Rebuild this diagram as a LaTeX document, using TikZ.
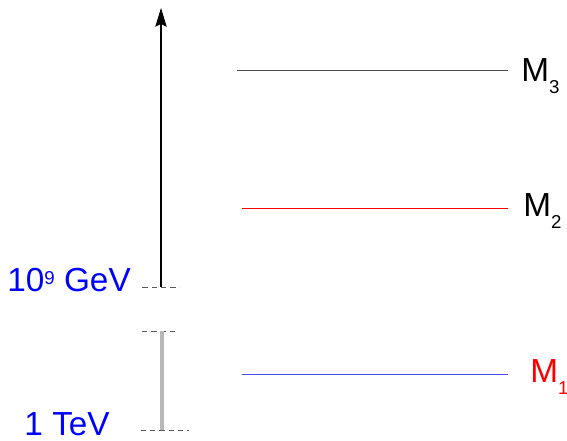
\documentclass[tikz,border=0pt]{standalone}
\usepackage{fontspec}
\setmainfont{Liberation Sans}
\usetikzlibrary{arrows.meta, positioning}

\newcommand{\lowsub}[1]{\raisebox{-8.5pt}{\fontsize{14}{14}\selectfont #1}}
\newcommand{\lowsup}[1]{\raisebox{5.5pt}{\fontsize{14}{14}\selectfont #1}}

\begin{document}
\begin{tikzpicture}[x=0.75pt, y=0.75pt,
    level/.style={line width=0.7pt},
    tick/.style={draw=black!65, dash pattern=on 4pt off 3pt, line width=0.6pt},
    scalelabel/.style={text=blue, font=\fontsize{25}{25}\selectfont, anchor=base east, inner sep=0pt},
    masslabel/.style={font=\fontsize{25}{25}\selectfont, anchor=base west, inner sep=0pt}
]
    \useasboundingbox (0,0) rectangle (567,441);

    % energy scale on the left
    \coordinate (gev) at (161,154);
    \coordinate (top) at (161,433);
    \coordinate (lowtop) at (162,110);
    \coordinate (tev) at (162,11);

    \draw[tick] ([xshift=-14]gev) -- ([xshift=14]gev);
    \draw[tick] ([xshift=-15]lowtop) -- ([xshift=12]lowtop);
    \draw[tick] ([xshift=-16]tev) -- ([xshift=20]tev);

    \draw[-{Stealth[length=14pt, width=8.5pt, inset=2pt]}, line width=0.8pt] (gev) -- (top);
    \draw[black!28, line width=2.6pt] (lowtop) -- (tev);

    \node[scalelabel] (gevlabel) at (131,149) {10\lowsup{9} GeV};
    \node[scalelabel] (tevlabel) at (110,5) {1 TeV};

    % mass levels
    \coordinate (m3a) at (237,371);
    \coordinate (m3b) at (508,371);
    \coordinate (m2a) at (242,233);
    \coordinate (m2b) at (508,233);
    \coordinate (m1a) at (242,67);
    \coordinate (m1b) at (508,67);

    \draw[level, black!70] (m3a) -- (m3b);
    \draw[level, red] (m2a) -- (m2b);
    \draw[level, blue!70] (m1a) -- (m1b);

    \node[masslabel] (m3) at (521,359) {M\lowsub{3}};
    \node[masslabel] (m2) at (523,224) {M\lowsub{2}};
    \node[masslabel, text=red] (m1) at (530,58) {M\lowsub{1}};
\end{tikzpicture}
\end{document}
